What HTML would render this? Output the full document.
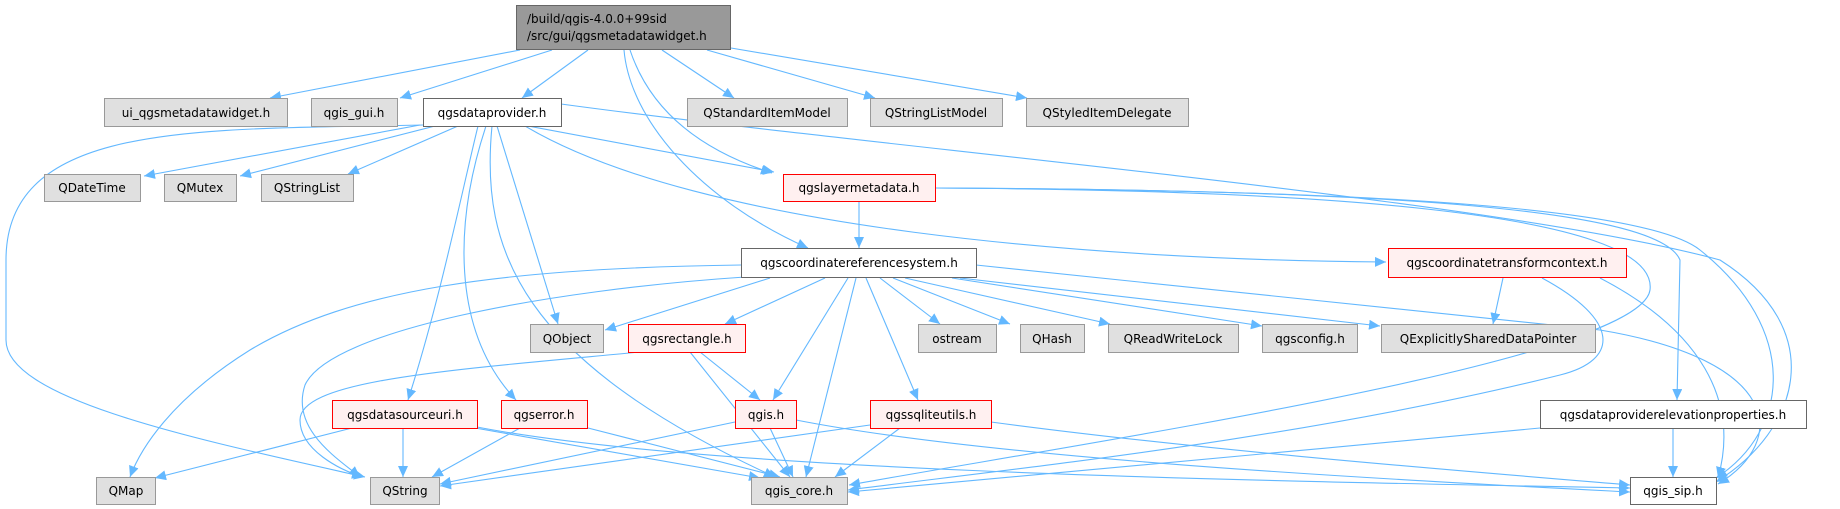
<!DOCTYPE html>
<html><head><meta charset="utf-8"><style>
html,body{margin:0;padding:0;background:#fff;}
svg{display:block;}
text{font-family:"DejaVu Sans","Liberation Sans",sans-serif;font-size:12px;fill:#000;}
.e{fill:none;stroke:#63b8ff;stroke-width:1.1;marker-end:url(#a);}
.g{fill:#e0e0e0;stroke:#999;}
.w{fill:#fff;stroke:#666;}
.r{fill:#fff0f0;stroke:#f00;}
</style></head><body>
<svg width="1840" height="509" viewBox="0 0 1840 509" xmlns="http://www.w3.org/2000/svg">
<defs><marker id="a" markerUnits="userSpaceOnUse" markerWidth="12" markerHeight="10" refX="11" refY="5" orient="auto"><path d="M0,0 L11,5 L0,10 z" fill="#63b8ff"/></marker></defs>
<path class="e" d="M520,50 L270,98"/>
<path class="e" d="M552,50 L400,98"/>
<path class="e" d="M588,50 L522,98"/>
<path class="e" d="M662,50 L734,98"/>
<path class="e" d="M707,50 L875,98"/>
<path class="e" d="M731,48 L1027,98"/>
<path class="e" d="M630,50 C650,110 700,150 772,173"/>
<path class="e" d="M624,50 C630,120 700,200 808,248"/>
<path class="e" d="M420,125 L144,176"/>
<path class="e" d="M435,126 L240,176"/>
<path class="e" d="M458,126 L348,174"/>
<path class="e" d="M423,125 C200,130 6,120 6,260 L6,340 C6,400 200,440 365,477"/>
<path class="e" d="M478,126 C460,200 440,300 408,400"/>
<path class="e" d="M486,126 C455,220 450,330 516,400"/>
<path class="e" d="M492,126 C480,250 520,360 775,477"/>
<path class="e" d="M497,126 L558,324"/>
<path class="e" d="M528,126 L774,172"/>
<path class="e" d="M525,126 C700,230 1100,260 1386,262"/>
<path class="e" d="M561,104 C900,150 1500,200 1720,260 C1830,330 1800,430 1716,482"/>
<path class="e" d="M935,188 C1400,190 1660,210 1680,260 L1677,400"/>
<path class="e" d="M859,201 L859,248"/>
<path class="e" d="M935,188 C1300,190 1660,210 1650,290 C1640,360 1100,440 849,485"/>
<path class="e" d="M935,188 C1400,190 1650,210 1700,250 C1800,330 1790,430 1716,478"/>
<path class="e" d="M741,265 C500,268 350,290 250,350 C170,400 140,450 130,477"/>
<path class="e" d="M745,277 C550,290 330,330 305,385 C290,430 340,460 360,477"/>
<path class="e" d="M770,278 L605,330"/>
<path class="e" d="M825,278 L725,324"/>
<path class="e" d="M848,278 L773,400"/>
<path class="e" d="M856,278 L806,477"/>
<path class="e" d="M866,278 L918,400"/>
<path class="e" d="M880,278 L940,324"/>
<path class="e" d="M893,278 L1010,324"/>
<path class="e" d="M905,278 L1110,324"/>
<path class="e" d="M952,278 L1262,326"/>
<path class="e" d="M960,278 L1380,326"/>
<path class="e" d="M976,265 C1300,300 1500,320 1600,330 C1780,360 1790,440 1718,484"/>
<path class="e" d="M1503,278 L1493,324"/>
<path class="e" d="M1542,278 C1620,320 1620,360 1560,375 C1300,440 1000,470 848,490"/>
<path class="e" d="M1600,278 C1700,330 1740,400 1718,478"/>
<path class="e" d="M640,352 C450,370 300,380 300,420 C300,450 340,470 363,477"/>
<path class="e" d="M700,352 L760,400"/>
<path class="e" d="M690,352 L790,477"/>
<path class="e" d="M352,428 L155,478"/>
<path class="e" d="M403,428 L403,477"/>
<path class="e" d="M475,428 L760,478"/>
<path class="e" d="M477,427 C700,470 1200,480 1630,488"/>
<path class="e" d="M520,428 L432,477"/>
<path class="e" d="M588,428 L780,477"/>
<path class="e" d="M735,422 L440,484"/>
<path class="e" d="M770,428 L793,477"/>
<path class="e" d="M796,420 C1000,460 1400,480 1630,492"/>
<path class="e" d="M870,425 L440,486"/>
<path class="e" d="M900,428 L835,477"/>
<path class="e" d="M991,422 C1200,450 1450,470 1630,485"/>
<path class="e" d="M1673,428 L1673,477"/>
<path class="e" d="M1540,428 C1300,450 1000,480 848,492"/>
<rect x="516.5" y="5.5" width="214" height="44" fill="#999" stroke="#666"/>
<text x="527" y="23">/build/qgis-4.0.0+99sid</text>
<text x="527" y="40">/src/gui/qgsmetadatawidget.h</text>
<g text-anchor="middle">
<rect class="g" x="104.5" y="98.5" width="183" height="28"/><text x="196" y="117">ui_qgsmetadatawidget.h</text>
<rect class="g" x="311.5" y="98.5" width="86" height="28"/><text x="354" y="117">qgis_gui.h</text>
<rect class="w" x="423.5" y="98.5" width="138" height="28"/><text x="492" y="117">qgsdataprovider.h</text>
<rect class="g" x="687.5" y="98.5" width="160" height="28"/><text x="767" y="117">QStandardItemModel</text>
<rect class="g" x="870.5" y="98.5" width="132" height="28"/><text x="936" y="117">QStringListModel</text>
<rect class="g" x="1026.5" y="98.5" width="162" height="28"/><text x="1107" y="117">QStyledItemDelegate</text>
<rect class="g" x="44.5" y="174.5" width="96" height="27"/><text x="92" y="192">QDateTime</text>
<rect class="g" x="164.5" y="174.5" width="72" height="27"/><text x="200" y="192">QMutex</text>
<rect class="g" x="261.5" y="174.5" width="92" height="27"/><text x="307" y="192">QStringList</text>
<rect class="r" x="783.5" y="174.5" width="152" height="27"/><text x="859" y="192">qgslayermetadata.h</text>
<rect class="w" x="741.5" y="248.5" width="235" height="29"/><text x="859" y="267">qgscoordinatereferencesystem.h</text>
<rect class="r" x="1388.5" y="248.5" width="238" height="29"/><text x="1507" y="267">qgscoordinatetransformcontext.h</text>
<rect class="g" x="530.5" y="324.5" width="73" height="28"/><text x="567" y="343">QObject</text>
<rect class="r" x="628.5" y="324.5" width="117" height="28"/><text x="687" y="343">qgsrectangle.h</text>
<rect class="g" x="918.5" y="324.5" width="78" height="28"/><text x="957" y="343">ostream</text>
<rect class="g" x="1020.5" y="324.5" width="64" height="28"/><text x="1052" y="343">QHash</text>
<rect class="g" x="1108.5" y="324.5" width="130" height="28"/><text x="1173" y="343">QReadWriteLock</text>
<rect class="g" x="1262.5" y="324.5" width="95" height="28"/><text x="1310" y="343">qgsconfig.h</text>
<rect class="g" x="1381.5" y="324.5" width="214" height="28"/><text x="1488" y="343">QExplicitlySharedDataPointer</text>
<rect class="r" x="332.5" y="400.5" width="145" height="28"/><text x="405" y="419">qgsdatasourceuri.h</text>
<rect class="r" x="501.5" y="400.5" width="86" height="28"/><text x="544" y="419">qgserror.h</text>
<rect class="r" x="735.5" y="400.5" width="61" height="28"/><text x="766" y="419">qgis.h</text>
<rect class="r" x="870.5" y="400.5" width="121" height="28"/><text x="931" y="419">qgssqliteutils.h</text>
<rect class="w" x="1540.5" y="400.5" width="266" height="28"/><text x="1673" y="419">qgsdataproviderelevationproperties.h</text>
<rect class="g" x="96.5" y="477.5" width="59" height="27"/><text x="126" y="495">QMap</text>
<rect class="g" x="370.5" y="477.5" width="69" height="27"/><text x="405" y="495">QString</text>
<rect class="g" x="751.5" y="477.5" width="96" height="27"/><text x="799" y="495">qgis_core.h</text>
<rect class="w" x="1630.5" y="477.5" width="86" height="27"/><text x="1673" y="495">qgis_sip.h</text>
</g>
</svg>
</body></html>
